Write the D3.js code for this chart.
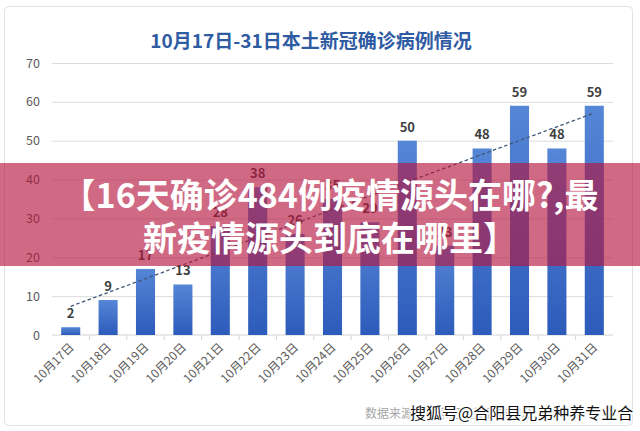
<!DOCTYPE html>
<html>
<head>
<meta charset="utf-8">
<script src="https://cdn.jsdelivr.net/npm/d3@7"></script>
<style>
    html, body { margin: 0; padding: 0; background: #ffffff; }
    svg text { font-family: "Noto Sans CJK SC", "Noto Sans", sans-serif; }
</style>
</head>
<body>
<div id="chart"></div>
<script>
const dates = ["10月17日", "10月18日", "10月19日", "10月20日", "10月21日", "10月22日", "10月23日", "10月24日",
    "10月25日", "10月26日", "10月27日", "10月28日", "10月29日", "10月30日", "10月31日"];
const cases = [2, 9, 17, 13, 28, 38, 26, 35, 29, 50, 23, 48, 59, 48, 59];
const yTicks = [0, 10, 20, 30, 40, 50, 60, 70];
const chartTitle = "10月17日-31日本土新冠确诊病例情况";
const bannerLines = ["【16天确诊484例疫情源头在哪?,最", "新疫情源头到底在哪里】"];
const sourceNote = "数据来源：国家卫健委官方网站";
const watermark = "搜狐号@合阳县兄弟种养专业合";

const width = 640;
const height = 431;
const plot = {left: 52, right: 613, top: 63, bottom: 335};

let svg = d3.select("#chart")
    .append("svg")
    .attr("width", width)
    .attr("height", height);

// bar gradient
let grad = svg.append("defs").append("linearGradient")
    .attr("id", "barGrad")
    .attr("x1", 0).attr("y1", 0).attr("x2", 0).attr("y2", 1);
grad.append("stop").attr("offset", "0%").attr("stop-color", "#5686d6");
grad.append("stop").attr("offset", "100%").attr("stop-color", "#2d5bbb");

// card frame
svg.append("rect")
    .attr("x", 4.5).attr("y", 6.5)
    .attr("width", 628).attr("height", 419)
    .attr("rx", 4)
    .attr("fill", "#ffffff")
    .attr("stroke", "#e2e2e2");

let xScale = d3.scaleBand()
    .domain(dates)
    .range([plot.left, plot.right])
    .paddingInner(0.49)
    .paddingOuter(0.245);

let yScale = d3.scaleLinear()
    .domain([0, 70])
    .range([plot.bottom, plot.top]);

// title
svg.append("text")
    .attr("x", 311)
    .attr("y", 48)
    .attr("text-anchor", "middle")
    .attr("font-size", 19)
    .attr("font-weight", "bold")
    .attr("fill", "#2f5ba3")
    .text(chartTitle);

// grid
svg.append("g")
    .attr("class", "grid")
    .attr("transform", "translate(" + plot.left + ",0)")
    .call(d3.axisRight(yScale)
        .tickValues(yTicks.slice(1))
        .tickSize(plot.right - plot.left)
        .tickFormat(""))
    .call(g => g.select(".domain").remove())
    .call(g => g.selectAll("line").attr("stroke", "#dcdcdc"));

// y labels
svg.append("g")
    .attr("class", "yAxis")
    .attr("transform", "translate(" + plot.left + ",0)")
    .call(d3.axisLeft(yScale).tickValues(yTicks).tickSize(0).tickPadding(12))
    .call(g => g.select(".domain").remove())
    .call(g => g.selectAll("text")
        .attr("font-size", 12.5)
        .attr("fill", "#595959"));

// x axis with ticks between categories
let xAxis = svg.append("g")
    .attr("class", "xAxis")
    .attr("transform", "translate(0," + plot.bottom + ")");
xAxis.append("line")
    .attr("x1", plot.left).attr("x2", plot.right)
    .attr("stroke", "#d4d4d4");
xAxis.selectAll(".tick")
    .data(dates.slice(1))
    .enter()
    .append("line")
    .attr("x1", d => xScale(d) - xScale.step() * xScale.paddingInner() / 2)
    .attr("x2", d => xScale(d) - xScale.step() * xScale.paddingInner() / 2)
    .attr("y2", 5)
    .attr("stroke", "#d4d4d4");
xAxis.selectAll(".lbl")
    .data(dates)
    .enter()
    .append("text")
    .attr("transform", d => "translate(" + (xScale(d) + xScale.bandwidth() / 2 + 1) + ",10) rotate(-45)")
    .attr("dy", "0.35em")
    .attr("text-anchor", "end")
    .attr("font-size", 12)
    .attr("fill", "#595959")
    .text(d => d);

// bars
svg.append("g")
    .attr("class", "bars")
    .selectAll("rect")
    .data(cases)
    .enter()
    .append("rect")
    .attr("x", (d, i) => xScale(dates[i]))
    .attr("y", d => yScale(d))
    .attr("width", xScale.bandwidth())
    .attr("height", d => yScale(0) - yScale(d))
    .attr("fill", "url(#barGrad)");

// linear trend line
let n = cases.length;
let meanX = (n - 1) / 2;
let meanY = d3.mean(cases);
let slope = d3.sum(cases, (d, i) => (i - meanX) * (d - meanY)) /
    d3.sum(cases, (d, i) => (i - meanX) * (i - meanX));
let intercept = meanY - slope * meanX;
let cx = i => xScale(dates[i]) + xScale.bandwidth() / 2;
svg.append("line")
    .attr("x1", cx(0))
    .attr("y1", yScale(intercept))
    .attr("x2", cx(n - 1))
    .attr("y2", yScale(intercept + slope * (n - 1)))
    .attr("stroke", "#3f5676")
    .attr("stroke-width", 1.3)
    .attr("stroke-dasharray", "3.5,2.5");

// value labels
svg.append("g")
    .attr("class", "labels")
    .selectAll("text")
    .data(cases)
    .enter()
    .append("text")
    .attr("x", (d, i) => cx(i))
    .attr("y", d => yScale(d) - 9)
    .attr("text-anchor", "middle")
    .attr("font-size", 13)
    .attr("font-weight", "bold")
    .attr("fill", "#404040")
    .text(d => d);

// source note
svg.append("text")
    .attr("x", 365)
    .attr("y", 418)
    .attr("font-size", 12)
    .attr("fill", "#a6a6a6")
    .text(sourceNote);

// pink banner over the chart
svg.append("rect")
    .attr("x", 0).attr("y", 163)
    .attr("width", width).attr("height", 103)
    .attr("fill", "rgb(182, 22, 62)")
    .attr("fill-opacity", 0.64);

svg.append("g")
    .attr("class", "banner")
    .selectAll("text")
    .data(bannerLines)
    .enter()
    .append("text")
    .attr("x", 330)
    .attr("y", (d, i) => 208 + i * 43)
    .attr("text-anchor", "middle")
    .attr("font-size", 34)
    .attr("font-weight", "bold")
    .attr("fill", "#ffffff")
    .text(d => d);

// watermark
svg.append("text")
    .attr("x", 410)
    .attr("y", 419)
    .attr("font-size", 16)
    .attr("fill", "#111111")
    .attr("stroke", "#ffffff")
    .attr("stroke-width", 3)
    .attr("paint-order", "stroke")
    .text(watermark);
</script>
</body>
</html>
